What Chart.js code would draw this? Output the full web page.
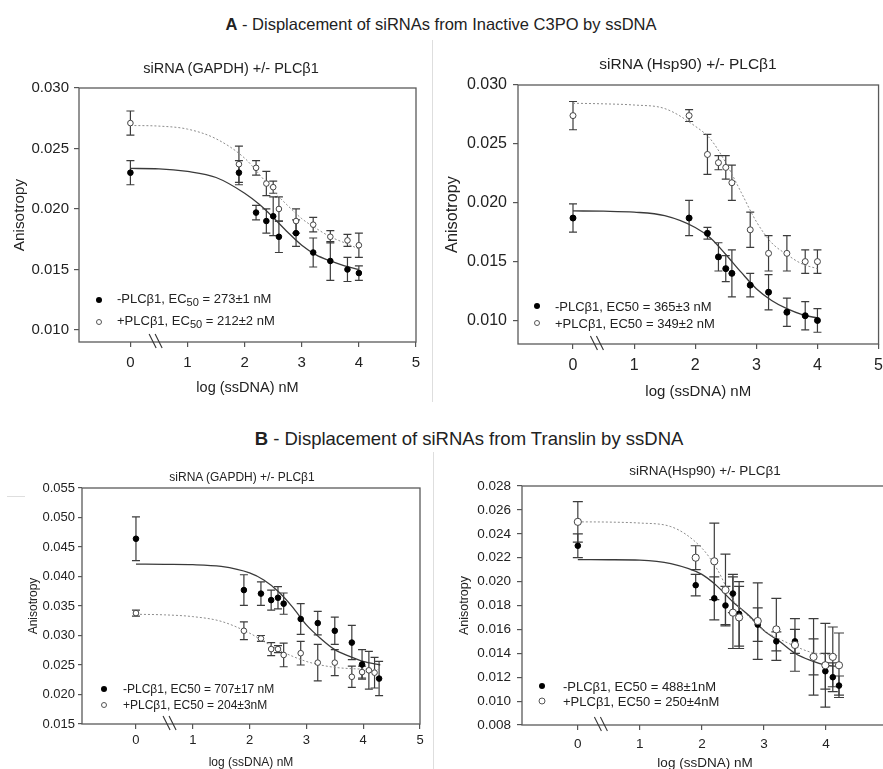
<!DOCTYPE html>
<html>
<head>
<meta charset="utf-8">
<script src="https://cdn.jsdelivr.net/npm/chart.js@4.4.0/dist/chart.umd.min.js"></script>
<style>
  html,body{margin:0;padding:0;background:#fff;}
  body{width:883px;height:769px;overflow:hidden;position:relative;font-family:"Liberation Sans",Arial,sans-serif;color:#222;}
  canvas{position:absolute;}
  .t{position:absolute;white-space:nowrap;transform:translate(-50%,-50%);}
  .tl{position:absolute;white-space:nowrap;transform:translateY(-50%);}
  .dot{position:absolute;border-radius:50%;box-sizing:border-box;transform:translate(-50%,-50%);}
  .sep{position:absolute;background:#dedede;}
  sub{font-size:0.85em;vertical-align:-0.35em;line-height:0;}
</style>
</head>
<body>
<div class="t" style="left:441px;top:24px;font-size:16.5px;"><b>A</b> - Displacement of siRNAs from Inactive C3PO by ssDNA</div>
<div class="t" style="left:469px;top:439px;font-size:18.5px;"><b>B</b> - Displacement of siRNAs from Translin by ssDNA</div>

<div class="sep" style="left:432px;top:40px;width:1px;height:362px;"></div>
<div class="sep" style="left:433px;top:452px;width:1px;height:317px;"></div>
<div class="sep" style="left:7px;top:496px;width:18px;height:1px;"></div>

<canvas id="cAL" width="432" height="352" style="left:0px;top:50px;"></canvas>
<canvas id="cAR" width="453" height="352" style="left:437px;top:50px;"></canvas>
<canvas id="cBL" width="432" height="325" style="left:0px;top:450px;"></canvas>
<canvas id="cBR" width="463" height="325" style="left:437px;top:450px;"></canvas>

<div class="t" id="tAL" style="left:231px;top:68px;font-size:14.5px;"></div>
<div class="t" id="tAR" style="left:688px;top:64px;font-size:15.5px;"></div>
<div class="t" id="tBL" style="left:242px;top:477px;font-size:12px;"></div>
<div class="t" id="tBR" style="left:705px;top:470px;font-size:13.5px;"></div>

<!-- legends -->
<div class="dot" style="left:99px;top:300px;width:6px;height:6px;background:#000;"></div>
<div class="dot" style="left:99px;top:322px;width:6px;height:6px;background:#fff;border:1px solid #555;"></div>
<div class="tl" id="lAL0" style="left:117px;top:298px;font-size:13px;"></div>
<div class="tl" id="lAL1" style="left:117px;top:320px;font-size:13px;"></div>

<div class="dot" style="left:537px;top:306px;width:6px;height:6px;background:#000;"></div>
<div class="dot" style="left:537px;top:323px;width:6px;height:6px;background:#fff;border:1px solid #555;"></div>
<div class="tl" id="lAR0" style="left:555px;top:306px;font-size:13px;"></div>
<div class="tl" id="lAR1" style="left:555px;top:323px;font-size:13px;"></div>

<div class="dot" style="left:104px;top:689px;width:6px;height:6px;background:#000;"></div>
<div class="dot" style="left:104px;top:705px;width:6px;height:6px;background:#fff;border:1px solid #555;"></div>
<div class="tl" id="lBL0" style="left:123px;top:689px;font-size:12px;"></div>
<div class="tl" id="lBL1" style="left:123px;top:705px;font-size:12px;"></div>

<div class="dot" style="left:542px;top:686px;width:6px;height:6px;background:#000;"></div>
<div class="dot" style="left:542px;top:701px;width:7px;height:7px;background:#fff;border:1px solid #555;"></div>
<div class="tl" id="lBR0" style="left:563px;top:686px;font-size:13px;"></div>
<div class="tl" id="lBR1" style="left:563px;top:701px;font-size:13px;"></div>

<script>
// ---------------- DATA ----------------
const xTicks = [0, 1, 2, 3, 4, 5];
const yTicksA_L = [0.010, 0.015, 0.020, 0.025, 0.030];
const yTicksA_R = [0.010, 0.015, 0.020, 0.025, 0.030];
const yTicksB_L = [0.015, 0.020, 0.025, 0.030, 0.035, 0.040, 0.045, 0.050, 0.055];
const yTicksB_R = [0.008, 0.010, 0.012, 0.014, 0.016, 0.018, 0.020, 0.022, 0.024, 0.026, 0.028];

const panelTitles = ["siRNA (GAPDH) +/- PLCβ1", "siRNA (Hsp90) +/- PLCβ1", "siRNA (GAPDH) +/- PLCβ1", "siRNA(Hsp90) +/- PLCβ1"];
const legendAL = ["-PLCβ1, EC<sub>50</sub> = 273±1 nM", "+PLCβ1, EC<sub>50</sub> = 212±2 nM"];
const legendAR = ["-PLCβ1, EC50 = 365±3 nM", "+PLCβ1, EC50 = 349±2 nM"];
const legendBL = ["-PLCβ1, EC50 = 707±17 nM", "+PLCβ1, EC50 = 204±3nM"];
const legendBR = ["-PLCβ1, EC50 = 488±1nM", "+PLCβ1, EC50 = 250±4nM"];

// Panel A left: siRNA (GAPDH), C3PO
const aL_x        = [0, 1.9, 2.2, 2.38, 2.5, 2.6, 2.9, 3.2, 3.5, 3.8, 4.0];
const aL_minus    = [0.0230, 0.0230, 0.0197, 0.0190, 0.0194, 0.0177, 0.0180, 0.0164, 0.0157, 0.0150, 0.0147];
const aL_minusErr = [0.0010, 0.0010, 0.0006, 0.0010, 0.0016, 0.0013, 0.0011, 0.0012, 0.0016, 0.0010, 0.0006];
const aL_plus     = [0.0271, 0.0237, 0.0234, 0.0221, 0.0218, 0.0200, 0.0190, 0.0187, 0.0177, 0.0174, 0.0170];
const aL_plusErr  = [0.0010, 0.0015, 0.0006, 0.0010, 0.0005, 0.0010, 0.0010, 0.0006, 0.0005, 0.0005, 0.0010];
const aL_fitX     = [0, 0.5, 1, 1.5, 2, 2.25, 2.5, 2.75, 3, 3.25, 3.5, 3.75, 4];
const aL_fitMinus = [0.02335, 0.02332, 0.0231, 0.0226, 0.0213, 0.0204, 0.0193, 0.0181, 0.0170, 0.0162, 0.0157, 0.0153, 0.0150];
const aL_fitPlus  = [0.0269, 0.02685, 0.0266, 0.0258, 0.0242, 0.0229, 0.0215, 0.0203, 0.0192, 0.0184, 0.0177, 0.0172, 0.0167];

// Panel A right: siRNA (Hsp90), C3PO
const aR_x        = [0, 1.9, 2.2, 2.38, 2.5, 2.6, 2.9, 3.2, 3.5, 3.8, 4.0];
const aR_minus    = [0.0187, 0.0187, 0.0174, 0.0154, 0.0144, 0.0140, 0.0130, 0.0124, 0.0107, 0.0104, 0.0100];
const aR_minusErr = [0.0012, 0.0015, 0.0005, 0.0012, 0.0011, 0.0020, 0.0010, 0.0015, 0.0012, 0.0012, 0.0010];
const aR_plus     = [0.0274, 0.0274, 0.0241, 0.0234, 0.0230, 0.0217, 0.0177, 0.0157, 0.0157, 0.0150, 0.0150];
const aR_plusErr  = [0.0012, 0.0005, 0.0017, 0.0006, 0.0010, 0.0015, 0.0015, 0.0015, 0.0015, 0.0010, 0.0010];
const aR_fitX     = [0, 0.5, 1, 1.5, 2, 2.25, 2.5, 2.75, 3, 3.25, 3.5, 3.75, 4];
const aR_fitMinus = [0.0193, 0.01928, 0.0192, 0.0189, 0.0179, 0.0170, 0.0156, 0.0141, 0.0127, 0.0117, 0.0110, 0.0105, 0.0102];
const aR_fitPlus  = [0.02845, 0.0284, 0.0283, 0.0280, 0.0265, 0.0254, 0.0234, 0.0209, 0.0184, 0.0166, 0.0156, 0.0148, 0.0144];

// Panel B left: siRNA (GAPDH), Translin
const bL_minusX   = [0, 1.9, 2.2, 2.38, 2.5, 2.6, 2.9, 3.2, 3.5, 3.8, 3.98, 4.28];
const bL_minus    = [0.0464, 0.0377, 0.0371, 0.0360, 0.0364, 0.0354, 0.0328, 0.0321, 0.0308, 0.0288, 0.0251, 0.0227];
const bL_minusErr = [0.0037, 0.0026, 0.0020, 0.0017, 0.0019, 0.0018, 0.0026, 0.0020, 0.0023, 0.0029, 0.0025, 0.0029];
const bL_plusX    = [0, 1.9, 2.2, 2.38, 2.5, 2.6, 2.9, 3.2, 3.5, 3.8, 3.98, 4.1, 4.2];
const bL_plus     = [0.0338, 0.0308, 0.0295, 0.0277, 0.0277, 0.0267, 0.0270, 0.0254, 0.0254, 0.0230, 0.0238, 0.0241, 0.0237];
const bL_plusErr  = [0.0005, 0.0015, 0.0005, 0.0011, 0.0006, 0.0020, 0.0020, 0.0031, 0.0022, 0.0018, 0.0010, 0.0032, 0.0026];
const bL_fitX     = [0, 0.5, 1, 1.5, 2, 2.25, 2.5, 2.75, 3, 3.25, 3.5, 3.75, 4, 4.3];
const bL_fitMinus = [0.0421, 0.04205, 0.0420, 0.0417, 0.0406, 0.0394, 0.0375, 0.0349, 0.0318, 0.0295, 0.0276, 0.0265, 0.0256, 0.0250];
const bL_fitPlus  = [0.0336, 0.0335, 0.0332, 0.0324, 0.0304, 0.0290, 0.0276, 0.0265, 0.0256, 0.0250, 0.0246, 0.0244, 0.0243, 0.0242];

// Panel B right: siRNA (Hsp90), Translin
const bR_minusX   = [0, 1.9, 2.2, 2.38, 2.5, 2.6, 2.9, 3.2, 3.5, 3.8, 3.99, 4.11, 4.21];
const bR_minus    = [0.0230, 0.0197, 0.0186, 0.0180, 0.0190, 0.0173, 0.0164, 0.0150, 0.0150, 0.0137, 0.0125, 0.0120, 0.0113];
const bR_minusErr = [0.0010, 0.0009, 0.0018, 0.0016, 0.0016, 0.0027, 0.0014, 0.0008, 0.0010, 0.0015, 0.0015, 0.0012, 0.0008];
const bR_plusX    = [0, 1.9, 2.2, 2.38, 2.5, 2.6, 2.9, 3.2, 3.5, 3.8, 3.99, 4.11, 4.21];
const bR_plus     = [0.0250, 0.0220, 0.0217, 0.0193, 0.0174, 0.0170, 0.0167, 0.0160, 0.0147, 0.0137, 0.0130, 0.0137, 0.0130];
const bR_plusErr  = [0.0017, 0.0010, 0.0032, 0.0030, 0.0030, 0.0026, 0.0032, 0.0026, 0.0022, 0.0032, 0.0035, 0.0025, 0.0027];
const bR_fitX     = [0, 0.5, 1, 1.5, 2, 2.25, 2.5, 2.75, 3, 3.25, 3.5, 3.75, 4, 4.2];
const bR_fitMinus = [0.02184, 0.02183, 0.0218, 0.0215, 0.0206, 0.0196, 0.0183, 0.0172, 0.0159, 0.0150, 0.0140, 0.0134, 0.0130, 0.0129];
const bR_fitPlus  = [0.0250, 0.02498, 0.0249, 0.0246, 0.0228, 0.0210, 0.0185, 0.0171, 0.0159, 0.0152, 0.0146, 0.0141, 0.0139, 0.0138];

// ---------------- TEXT ----------------
document.getElementById('tAL').textContent = panelTitles[0];
document.getElementById('tAR').textContent = panelTitles[1];
document.getElementById('tBL').textContent = panelTitles[2];
document.getElementById('tBR').textContent = panelTitles[3];
document.getElementById('lAL0').innerHTML = legendAL[0];
document.getElementById('lAL1').innerHTML = legendAL[1];
document.getElementById('lAR0').textContent = legendAR[0];
document.getElementById('lAR1').textContent = legendAR[1];
document.getElementById('lBL0').textContent = legendBL[0];
document.getElementById('lBL1').textContent = legendBL[1];
document.getElementById('lBR0').textContent = legendBR[0];
document.getElementById('lBR1').textContent = legendBR[1];

// ---------------- PLUGINS ----------------
Chart.defaults.font.family = '"Liberation Sans", Arial, sans-serif';

const errPlugin = {
  id: 'err',
  beforeDatasetsDraw(chart, args, opts) {
    const {ctx, scales: {x, y}} = chart;
    ctx.save();
    ctx.strokeStyle = '#3c3c3c';
    ctx.lineWidth = 1.2;
    chart.data.datasets.forEach(ds => {
      if (!ds.errors) return;
      ds.data.forEach((p, i) => {
        const e = ds.errors[i];
        const px = x.getPixelForValue(p.x);
        const y1 = y.getPixelForValue(p.y + e);
        const y2 = y.getPixelForValue(p.y - e);
        const c = opts.cap;
        ctx.beginPath();
        ctx.moveTo(px, y1); ctx.lineTo(px, y2);
        ctx.moveTo(px - c, y1); ctx.lineTo(px + c, y1);
        ctx.moveTo(px - c, y2); ctx.lineTo(px + c, y2);
        ctx.stroke();
      });
    });
    ctx.restore();
  }
};

const framePlugin = {
  id: 'frame',
  afterDraw(chart, args, opts) {
    const {ctx, chartArea: a, scales: {x}} = chart;
    ctx.save();
    ctx.strokeStyle = '#5a5a5a';
    ctx.lineWidth = 1.3;
    ctx.strokeRect(a.left, a.top, a.right - a.left, a.bottom - a.top);
    // axis break marks
    const px = x.getPixelForValue(opts.breakAt);
    ctx.strokeStyle = '#333';
    ctx.lineWidth = 1.1;
    [-3, 3].forEach(d => {
      ctx.beginPath();
      ctx.moveTo(px + d - 4, a.bottom - 8);
      ctx.lineTo(px + d + 3, a.bottom + 6);
      ctx.stroke();
    });
    ctx.restore();
  }
};

function pts(xs, ys) { return xs.map((v, i) => ({x: v, y: ys[i]})); }

function panel(id, o) {
  new Chart(document.getElementById(id), {
    type: 'scatter',
    data: {
      datasets: [
        {data: pts(o.fitX, o.fitMinus), showLine: true, pointRadius: 0, borderColor: '#3a3a3a',
         borderWidth: 1.3, cubicInterpolationMode: 'monotone', order: 5},
        {data: pts(o.fitX, o.fitPlus), showLine: true, pointRadius: 0, borderColor: '#8c8c8c',
         borderWidth: 1, borderDash: [2, 2], cubicInterpolationMode: 'monotone', order: 4},
        {data: pts(o.minusX, o.minus), errors: o.minusErr, pointRadius: o.r, backgroundColor: '#000',
         borderColor: '#000', borderWidth: 1, order: 2},
        {data: pts(o.plusX, o.plus), errors: o.plusErr, pointRadius: o.rOpen, backgroundColor: '#fff',
         borderColor: '#444', borderWidth: 1, order: 1}
      ]
    },
    options: {
      responsive: false, animation: false, events: [],
      layout: {padding: {left: 0, top: o.padTop, right: o.padRight, bottom: 0}},
      plugins: {legend: {display: false}, tooltip: {enabled: false}, title: {display: false},
                err: {cap: o.cap}, frame: {breakAt: o.breakAt}},
      scales: {
        x: {
          type: 'linear', min: o.xMin, max: 5,
          afterFit: s => { s.height = o.xH; },
          afterBuildTicks: s => { s.ticks = xTicks.map(v => ({value: v})); },
          grid: {drawOnChartArea: false, drawTicks: true, tickLength: 5, color: '#555', lineWidth: 1.2},
          border: {display: false},
          ticks: {font: {size: o.xTickFont}, color: '#222', padding: o.xTickPad, autoSkip: false,
                  maxRotation: 0, callback: v => String(v)},
          title: {display: true, text: 'log (ssDNA) nM', color: '#222', font: {size: o.xTitleFont},
                  padding: {top: 0, bottom: o.xTitlePad}}
        },
        y: {
          type: 'linear', min: o.yMin, max: o.yMax,
          afterFit: s => { s.width = o.yW; },
          afterBuildTicks: s => { s.ticks = o.yTicks.map(v => ({value: v})); },
          grid: {drawOnChartArea: false, drawTicks: true, tickLength: o.yTickLen, color: '#555', lineWidth: 1.2},
          border: {display: false},
          ticks: {font: {size: o.yTickFont}, color: '#222', padding: o.yTickPad, autoSkip: false,
                  callback: v => v.toFixed(3)},
          title: {display: true, text: 'Anisotropy', color: '#222', font: {size: o.yTitleFont},
                  padding: {top: o.yTitlePad, bottom: 0}}
        }
      }
    },
    plugins: [errPlugin, framePlugin]
  });
}

// A left: canvas (0,50) 432x352 ; chart area page (79,88)-(416,342)
panel('cAL', {
  fitX: aL_fitX, fitMinus: aL_fitMinus, fitPlus: aL_fitPlus,
  minusX: aL_x, minus: aL_minus, minusErr: aL_minusErr,
  plusX: aL_x, plus: aL_plus, plusErr: aL_plusErr,
  r: 2.8, rOpen: 2.8, cap: 4, breakAt: 0.45,
  xMin: -0.9, yMin: 0.009, yMax: 0.030, yTicks: yTicksA_L,
  padTop: 38, padRight: 16, yW: 79, xH: 60,
  xTickFont: 15, xTickPad: 7, xTitleFont: 14.5, xTitlePad: 5,
  yTickFont: 15, yTickPad: 5, yTickLen: 5, yTitleFont: 15.3, yTitlePad: 11
});

// A right: canvas (437,50) 453x352 ; chart area page (518,85)-(879,344)
panel('cAR', {
  fitX: aR_fitX, fitMinus: aR_fitMinus, fitPlus: aR_fitPlus,
  minusX: aR_x, minus: aR_minus, minusErr: aR_minusErr,
  plusX: aR_x, plus: aR_plus, plusErr: aR_plusErr,
  r: 3, rOpen: 3, cap: 4, breakAt: 0.4,
  xMin: -0.9, yMin: 0.008, yMax: 0.030, yTicks: yTicksA_R,
  padTop: 35, padRight: 11, yW: 81, xH: 58,
  xTickFont: 16, xTickPad: 7, xTitleFont: 15, xTitlePad: 1,
  yTickFont: 16, yTickPad: 6, yTickLen: 5, yTitleFont: 16.3, yTitlePad: 6
});

// B left: canvas (0,450) 432x325 ; chart area page (82,488)-(420,724)
panel('cBL', {
  fitX: bL_fitX, fitMinus: bL_fitMinus, fitPlus: bL_fitPlus,
  minusX: bL_minusX, minus: bL_minus, minusErr: bL_minusErr,
  plusX: bL_plusX, plus: bL_plus, plusErr: bL_plusErr,
  r: 2.8, rOpen: 2.8, cap: 4, breakAt: 0.6,
  xMin: -0.95, yMin: 0.015, yMax: 0.055, yTicks: yTicksB_L,
  padTop: 38, padRight: 12, yW: 82, xH: 51,
  xTickFont: 13, xTickPad: 4, xTitleFont: 12, xTitlePad: 5,
  yTickFont: 13, yTickPad: 3, yTickLen: 4, yTitleFont: 12, yTitlePad: 26
});

// B right: canvas (437,450) 463x325 ; chart area page (522,486)-(888,725)
panel('cBR', {
  fitX: bR_fitX, fitMinus: bR_fitMinus, fitPlus: bR_fitPlus,
  minusX: bR_minusX, minus: bR_minus, minusErr: bR_minusErr,
  plusX: bR_plusX, plus: bR_plus, plusErr: bR_plusErr,
  r: 2.8, rOpen: 3.6, cap: 5, breakAt: 0.38,
  xMin: -0.9, yMin: 0.008, yMax: 0.028, yTicks: yTicksB_R,
  padTop: 36, padRight: 12, yW: 85, xH: 50,
  xTickFont: 13.5, xTickPad: 6, xTitleFont: 13.5, xTitlePad: 4,
  yTickFont: 13.5, yTickPad: 6, yTickLen: 5, yTitleFont: 12.5, yTitlePad: 20
});
</script>
</body>
</html>
